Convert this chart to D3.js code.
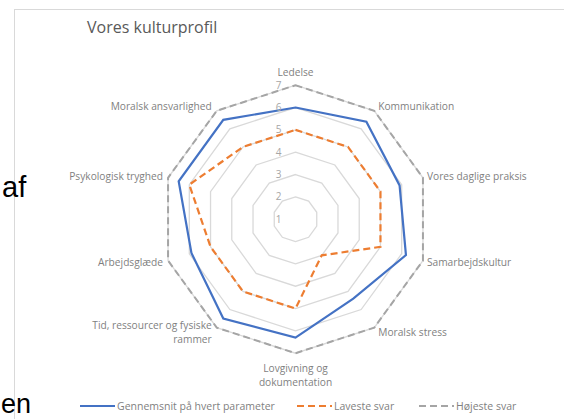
<!DOCTYPE html>
<html>
<head>
<meta charset="utf-8">
<script src="https://cdn.jsdelivr.net/npm/d3@7/dist/d3.min.js"></script>
<style>
  html, body { margin: 0; padding: 0; background: #fff; overflow: hidden; }
  svg { display: block; }
</style>
</head>
<body>
<div id="chart"></div>
<script>
// categories clockwise from the top
var categories = [
  ["Ledelse"],
  ["Kommunikation"],
  ["Vores daglige praksis"],
  ["Samarbejdskultur"],
  ["Moralsk stress"],
  ["Lovgivning og", "dokumentation"],
  ["Tid, ressourcer og fysiske", "rammer"],
  ["Arbejdsglæde"],
  ["Psykologisk tryghed"],
  ["Moralsk ansvarlighed"]
];
var gennemsnit = [6.0, 6.4, 5.9, 6.2, 5.4, 6.3, 6.5, 5.9, 6.5, 6.5];
var laveste    = [5, 5, 5, 5, 3, 5, 5, 5, 6, 5];
var hoejeste   = [7, 7, 7, 7, 7, 7, 7, 7, 7, 7];
var ticks = [1, 2, 3, 4, 5, 6, 7];
var seriesNames = ["Gennemsnit på hvert parameter", "Laveste svar", "Højeste svar"];

var width = 564, height = 419;
var cx = 295.5, cy = 219.2, radius = 134;
var font = "'Open Sans', 'Noto Sans', sans-serif";

var svg = d3.select("#chart").append("svg")
    .attr("width", width)
    .attr("height", height);

// chart frame (runs off the right and bottom edge)
svg.append("rect")
    .attr("x", 14.5).attr("y", 9.5)
    .attr("width", 600).attr("height", 500)
    .attr("fill", "#fff")
    .attr("stroke", "#d9d9d9")
    .attr("stroke-width", 1);

// stray document text behind the chart
svg.append("text")
    .attr("x", 2).attr("y", 197)
    .attr("font-family", "'Liberation Sans', Arial, sans-serif")
    .attr("font-size", 29).attr("fill", "#000")
    .text("af");
svg.append("text")
    .attr("x", 1).attr("y", 413)
    .attr("font-family", "'Liberation Sans', Arial, sans-serif")
    .attr("font-size", 27).attr("fill", "#000")
    .text("en");

svg.append("text")
    .attr("x", 87).attr("y", 33)
    .attr("font-family", font)
    .attr("font-size", 16)
    .attr("fill", "#595959")
    .text("Vores kulturprofil");

var r = d3.scaleLinear().domain([1, 7]).range([0, radius]);
var step = 2 * Math.PI / categories.length;
var angle = function(i) { return i * step; };

var g = svg.append("g").attr("transform", "translate(" + cx + "," + cy + ")");

var radar = d3.lineRadial()
    .angle(function(d, i) { return angle(i); })
    .radius(function(d) { return r(d); })
    .curve(d3.curveLinearClosed);

// grid rings
g.selectAll("path.ring")
    .data(ticks.slice(1))
  .enter().append("path")
    .attr("class", "ring")
    .attr("d", function(t) { return radar(categories.map(function() { return t; })); })
    .attr("fill", "none")
    .attr("stroke", "#d9d9d9")
    .attr("stroke-width", 1.3);

// series
var series = [
  { values: gennemsnit, color: "#4472c4", dash: null, width: 2.2 },
  { values: laveste, color: "#ed7d31", dash: "7,4", width: 2.2 },
  { values: hoejeste, color: "#a5a5a5", dash: "7,4", width: 2 }
];

g.selectAll("path.serie")
    .data(series.slice().reverse())
  .enter().append("path")
    .attr("class", "serie")
    .attr("d", function(s) { return radar(s.values); })
    .attr("fill", "none")
    .attr("stroke", function(s) { return s.color; })
    .attr("stroke-width", function(s) { return s.width; })
    .attr("stroke-dasharray", function(s) { return s.dash; })
    .attr("stroke-linejoin", "miter");

// value labels along the first axis
g.selectAll("text.tick")
    .data(ticks)
  .enter().append("text")
    .attr("class", "tick")
    .attr("x", -14)
    .attr("y", function(t) { return -r(t); })
    .attr("dy", "0.35em")
    .attr("text-anchor", "end")
    .attr("font-family", font)
    .attr("font-size", 10)
    .attr("fill", "#a6a6a6")
    .text(function(t) { return t; });

// category labels
categories.forEach(function(lines, i) {
  var a = angle(i);
  var s = Math.sin(a), c = Math.cos(a);
  var vx = radius * s, vy = -radius * c;
  var anchor = "middle", x = vx, yc;
  var lh = 14;
  if (s > 0.1) { anchor = "start"; x = vx + 4; }
  else if (s < -0.1) { anchor = "end"; x = vx - 5; }
  var top;
  if (Math.abs(s) < 0.1) {
    top = c > 0 ? vy - 13 - (lines.length - 1) * lh : vy + 15;
  } else {
    yc = vy - c * 6;
    top = yc - (lines.length - 1) * lh / 2;
  }
  var t = g.append("text")
      .attr("text-anchor", anchor)
      .attr("font-family", font)
      .attr("font-size", 10.2)
      .attr("fill", "#7f7f7f");
  lines.forEach(function(line, k) {
    t.append("tspan")
        .attr("x", x)
        .attr("y", top + k * lh)
        .attr("dy", "0.35em")
        .text(line);
  });
});

// legend
var legendX = [80, 297, 419];
var legend = svg.append("g").attr("transform", "translate(0,406)");
series.forEach(function(s, i) {
  legend.append("line")
      .attr("x1", legendX[i]).attr("x2", legendX[i] + 35)
      .attr("y1", 0).attr("y2", 0)
      .attr("stroke", s.color)
      .attr("stroke-width", s.width)
      .attr("stroke-dasharray", s.dash);
  legend.append("text")
      .attr("x", legendX[i] + 37)
      .attr("y", 0)
      .attr("dy", "0.35em")
      .attr("font-family", font)
      .attr("font-size", 10.5)
      .attr("fill", "#7f7f7f")
      .text(seriesNames[i]);
});
</script>
</body>
</html>
